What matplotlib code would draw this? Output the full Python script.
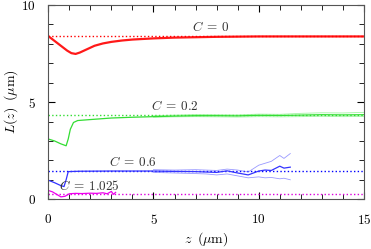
import matplotlib
matplotlib.use('Agg')

import numpy as np
import matplotlib.pyplot as plt

plt.rcParams['font.family'] = 'serif'
plt.rcParams['font.serif'] = ['cmr10', 'DejaVu Serif']
plt.rcParams['mathtext.fontset'] = 'cm'
plt.rcParams['axes.formatter.use_mathtext'] = True

# C = 0 (red)
z_red = [0, 0.3, 0.6, 0.9, 1.1, 1.3, 1.5, 1.8, 2.2, 2.6, 3, 3.5, 4, 5, 6, 7, 8, 10, 12, 15]
L_red = [8.4, 8.15, 7.9, 7.65, 7.52, 7.48, 7.55, 7.7, 7.9, 8.02, 8.1, 8.17, 8.22, 8.28, 8.32,
         8.34, 8.36, 8.38, 8.38, 8.38]
ref_red = 8.42

# C = 0.2 (green)
z_green = [0, 0.3, 0.6, 0.85, 0.95, 1.05, 1.2, 1.4, 2, 3, 4, 5, 6, 7, 8, 9, 10, 11, 12, 13, 14, 15]
L_green = [3.1, 3.0, 2.85, 2.75, 3.1, 3.6, 3.95, 4.05, 4.1, 4.18, 4.22, 4.25, 4.28, 4.3, 4.3, 4.29,
           4.32, 4.31, 4.33, 4.35, 4.34, 4.35]
z_green_band = [5, 6, 7, 8, 9, 10, 11, 12, 13, 14, 15]
L_green_hi = [4.3, 4.33, 4.36, 4.35, 4.34, 4.38, 4.37, 4.42, 4.45, 4.44, 4.47]
L_green_lo = [4.22, 4.24, 4.25, 4.24, 4.23, 4.25, 4.24, 4.25, 4.27, 4.25, 4.26]
ref_green = 4.33

# C = 0.6 (blue)
z_blue = [0, 0.3, 0.6, 0.75, 0.85, 0.95, 1.5, 3, 5, 6, 7, 7.5, 8, 8.5, 9, 9.5, 10, 10.3, 10.6, 11, 11.2, 11.5]
L_blue = [0.98, 0.85, 0.7, 0.65, 1.0, 1.42, 1.44, 1.45, 1.45, 1.43, 1.42, 1.4, 1.38, 1.46, 1.35, 1.25,
          1.45, 1.5, 1.48, 1.7, 1.6, 1.65]
z_blue_band = [5, 6, 7, 7.5, 8, 8.5, 9, 9.5, 10, 10.3, 10.6, 11, 11.2, 11.5]
L_blue_hi = [1.52, 1.5, 1.52, 1.5, 1.48, 1.55, 1.5, 1.4, 1.75, 1.85, 1.95, 2.25, 2.1, 2.35]
L_blue_lo = [1.38, 1.35, 1.32, 1.3, 1.25, 1.3, 1.2, 1.1, 1.15, 1.1, 1.12, 1.05, 1.08, 1.0]
ref_blue = 1.46

# C = 1.025 (magenta)
z_mag = [0, 0.2, 0.4, 0.6, 0.8, 1.0, 1.3, 1.6, 2, 2.3, 2.6, 2.8, 3, 3.1, 3.2]
L_mag = [0.45, 0.38, 0.25, 0.12, 0.15, 0.28, 0.3, 0.29, 0.31, 0.3, 0.33, 0.28, 0.4, 0.25, 0.35]
ref_mag = 0.29

labels = [r'$C\:=\:0$', r'$C\:=\:0.2$', r'$C\:=\:0.6$', r'$C\:=\:1.025$']
label_pos = [(7.7, 8.5), (6.0, 4.45), (4.0, 1.55), (1.95, 0.3)]

fig = plt.figure(figsize=(3.71, 2.49), dpi=100)
ax = fig.add_axes([0.13, 0.2, 0.851, 0.78])

ax.axhline(ref_red, color='red', ls=':', lw=1.0)
ax.axhline(ref_green, color='#33dd33', ls=':', lw=1.0)
ax.axhline(ref_blue, color='blue', ls=':', lw=1.0)
ax.axhline(ref_mag, color='#dd00dd', ls=':', lw=1.0)

ax.plot(z_red, L_red, color='red', lw=1.6, alpha=0.9)
ax.plot(z_green_band, L_green_hi, color='#66ee66', lw=0.6, alpha=0.6)
ax.plot(z_green_band, L_green_lo, color='#66ee66', lw=0.6, alpha=0.6)
ax.plot(z_green, L_green, color='#33dd33', lw=0.9)
ax.plot(z_blue_band, L_blue_hi, color='#5555ff', lw=0.6, alpha=0.6)
ax.plot(z_blue_band, L_blue_lo, color='#5555ff', lw=0.6, alpha=0.6)
ax.plot(z_blue, L_blue, color='#3333ff', lw=0.9)
ax.plot(z_mag, L_mag, color='#ee00ee', lw=0.9)

for lab, (x, y) in zip(labels, label_pos):
    ax.text(x, y, lab, ha='center', va='bottom', fontsize=9.5, color='#333333')

ax.set_xlim(0, 15)
ax.set_ylim(0, 10)
ax.set_xticks([0, 5, 10, 15])
ax.set_yticks([0, 5, 10])
ax.set_xticks(np.arange(0, 16, 1), minor=True)
ax.set_yticks(np.arange(0, 11, 1), minor=True)
ax.tick_params(which='both', direction='in', top=True, right=True, labelsize=9.5)
ax.tick_params(axis='x', which='both', pad=10)
ax.tick_params(axis='y', which='both', pad=9)
ax.tick_params(which='major', length=5)
ax.tick_params(which='minor', length=3.5)
ax.set_xlabel(r'$z\;\;(\mu\mathrm{m})$', fontsize=10, labelpad=2)
ax.set_ylabel(r'$L(z)\;\;(\mu\mathrm{m})$', fontsize=10, labelpad=1)
for s in ax.spines.values():
    s.set_color('#555555')

fig.savefig('out.png', dpi=100)
